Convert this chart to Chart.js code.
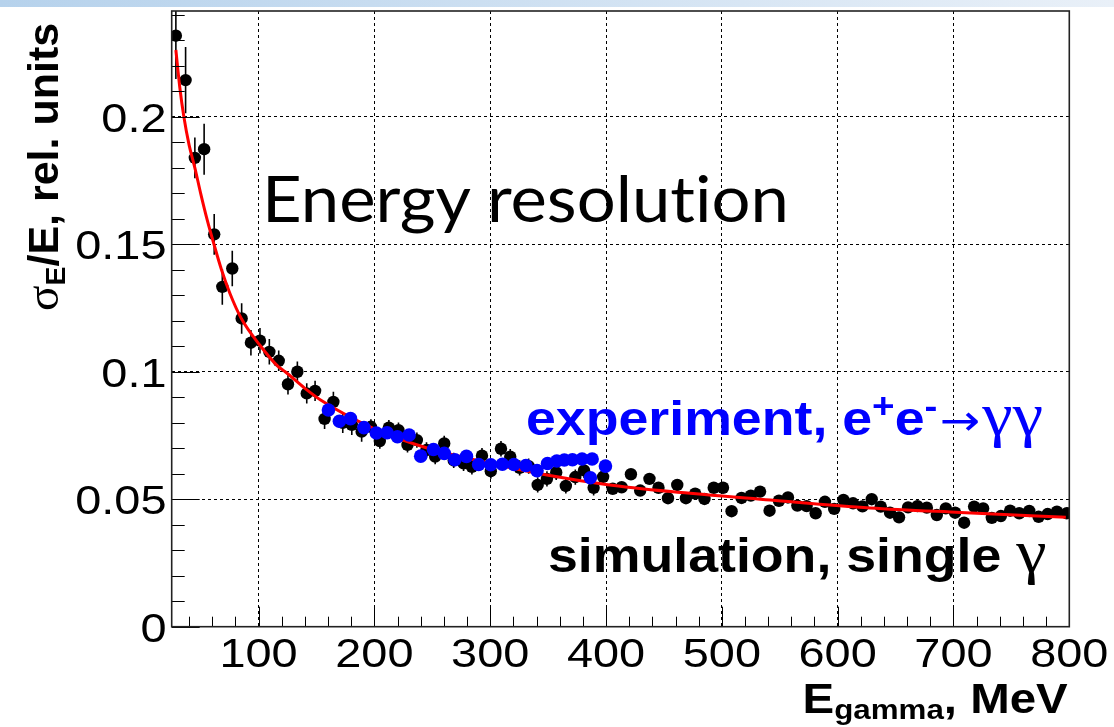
<!DOCTYPE html>
<html lang="en">
<head>
<meta charset="UTF-8" />
<title>Energy resolution</title>
<script src="https://cdn.jsdelivr.net/npm/chart.js"></script>
<style>
  html, body { margin: 0; padding: 0; background: #fff; }
  #wrap { position: relative; width: 1114px; height: 727px; overflow: hidden; background: #fff; }
  #topbar { position: absolute; left: 0; top: 0; width: 1114px; height: 7px;
            background: linear-gradient(to right, #b6d2ec, #e9f0f8); }
  canvas { position: absolute; left: 0; top: 0; }
  .lbl { position: absolute; white-space: nowrap; line-height: 1; font-variant-ligatures: none; }
  .root { font-family: "Liberation Sans", Arial, sans-serif; font-weight: bold;
          transform-origin: 0 0; transform: scaleX(1.13); }
  .sym { font-family: "Liberation Serif", "DejaVu Serif", serif; font-weight: normal; }
  .gam { font-size: 1.28em; line-height: 0; }
  .arr { font-family: "DejaVu Sans", sans-serif; font-weight: normal; font-size: 0.9em; padding: 0 2px; }
  .sup { position: relative; top: -0.5em; font-size: 0.72em; }
  .sub { position: relative; top: 0.25em; font-size: 0.66em; }
</style>
</head>
<body>
<div id="wrap">
  <canvas id="resChart" width="1114" height="727"></canvas>
  <div id="topbar"></div>

  <div class="lbl" id="title" style="left:262px; top:166px; font-family:Lato, 'Open Sans', sans-serif; font-size:64px; color:#000; transform-origin:0 0; transform:scaleX(1.075);">Energy resolution</div>

  <div class="lbl root" style="left:526px; top:395px; font-size:47.5px; color:#0000ff;">experiment, e<span class="sup">+</span>e<span class="sup">-</span><span class="arr">&rarr;</span><span class="sym gam">&gamma;&gamma;</span></div>

  <div class="lbl root" style="left:548px; top:531.5px; font-size:47.5px; color:#000;">simulation, single <span class="sym gam">&gamma;</span></div>

  <div class="lbl root" style="left:auto; right:46px; top:677.5px; font-size:42px; color:#000; transform-origin:100% 0;">E<span class="sub">gamma</span>, MeV</div>

  <div class="lbl" style="left:18.6px; top:311px; font-family:'Liberation Sans', Arial, sans-serif; font-weight:bold; font-size:43px; color:#000; transform-origin:0 0; transform:rotate(-90deg);"><span class="sym" style="font-size:1.1em;">&sigma;</span><span class="sub">E</span>/E, rel. units</div>
</div>

<script>
  // simulation, single gamma (black points with error bars)
  const simEnergy = [28.6, 37.0, 45.0, 53.0, 61.7, 68.7, 77.3, 85.4, 93.4, 101.2,
    109.3, 117.4, 125.4, 133.5, 141.6, 148.8, 157.0, 164.6, 172.7, 180.5,
    189.0, 197.0, 204.7, 212.5, 220.8, 228.6, 236.7, 245.0, 252.5, 260.3,
    268.5, 277.0, 284.2, 292.9, 300.5, 309.3, 317.3, 325.4, 333.2, 341.0,
    349.0, 357.0, 365.3, 373.5, 381.0, 389.3, 397.5, 405.8, 413.5, 421.5,
    429.5, 437.5, 445.3, 453.5, 461.5, 469.0, 477.0, 485.0, 493.0, 501.0,
    508.4, 517.0, 525.0, 533.0, 541.2, 549.3, 557.1, 565.2, 573.2, 581.0,
    589.0, 597.0, 605.0, 613.3, 621.4, 629.4, 637.2, 645.2, 653.0, 660.8,
    668.9, 677.0, 685.6, 693.4, 701.4, 709.2, 717.8, 725.6, 733.1, 740.9,
    748.9, 756.8, 765.4, 773.5, 781.3, 789.3, 797.9];
  const simSigma = [0.2318, 0.2144, 0.1839, 0.1873, 0.1539, 0.1333, 0.1405, 0.1209, 0.1114, 0.1122,
    0.1078, 0.1043, 0.0951, 0.1000, 0.0915, 0.0925, 0.0815, 0.0882, 0.0800, 0.0792,
    0.0765, 0.0784, 0.0728, 0.0781, 0.0771, 0.0713, 0.0732, 0.0693, 0.0667, 0.0719,
    0.0652, 0.0641, 0.0627, 0.0671, 0.0610, 0.0698, 0.0667, 0.0623, 0.0630, 0.0556,
    0.0580, 0.0605, 0.0552, 0.0587, 0.0613, 0.0545, 0.0588, 0.0541, 0.0547, 0.0598,
    0.0534, 0.0580, 0.0545, 0.0504, 0.0556, 0.0504, 0.0522, 0.0501, 0.0545, 0.0545,
    0.0453, 0.0505, 0.0514, 0.0530, 0.0455, 0.0494, 0.0507, 0.0475, 0.0473, 0.0445,
    0.0490, 0.0462, 0.0497, 0.0484, 0.0472, 0.0500, 0.0471, 0.0447, 0.0429, 0.0468,
    0.0473, 0.0467, 0.0438, 0.0464, 0.0447, 0.0408, 0.0471, 0.0464, 0.0427, 0.0434,
    0.0455, 0.0445, 0.0454, 0.0431, 0.0442, 0.0451, 0.0445];
  const simError = [0.017, 0.013, 0.008, 0.010, 0.008, 0.007, 0.007, 0.006, 0.005, 0.005,
    0.005, 0.004, 0.004, 0.004, 0.004, 0.004, 0.004, 0.004, 0.004, 0.004,
    0.004, 0.003, 0.003, 0.003, 0.003, 0.003, 0.003, 0.003, 0.003, 0.003,
    0.003, 0.003, 0.003, 0.003, 0.003, 0.003, 0.003, 0.003, 0.003, 0.003,
    0.003, 0.003, 0.003, 0.003, 0.003, 0.003, 0.003, 0.002, 0.002, 0.002,
    0.002, 0.002, 0.002, 0.002, 0.002, 0.002, 0.002, 0.002, 0.002, 0.002,
    0.002, 0.002, 0.002, 0.002, 0.002, 0.002, 0.002, 0.002, 0.002, 0.002,
    0.002, 0.002, 0.002, 0.002, 0.002, 0.002, 0.002, 0.002, 0.002, 0.002,
    0.002, 0.002, 0.002, 0.002, 0.002, 0.002, 0.002, 0.002, 0.002, 0.002,
    0.002, 0.002, 0.002, 0.002, 0.002, 0.002, 0.002];

  // experiment, e+e- -> gamma gamma (blue points)
  const expEnergy = [160.3, 169.8, 179.4, 191.0, 201.7, 211.0, 219.9, 230.0, 240.0, 251.0,
    260.3, 269.5, 279.5, 290.0, 300.5, 310.5, 320.5, 330.8, 340.4, 349.5,
    357.5, 364.0, 371.0, 379.3, 386.5, 388.0, 399.5];
  const expSigma = [0.0850, 0.0806, 0.0816, 0.0781, 0.0760, 0.0761, 0.0745, 0.0752, 0.0669, 0.0695,
    0.0680, 0.0655, 0.0668, 0.0636, 0.0635, 0.0637, 0.0636, 0.0632, 0.0612, 0.0640,
    0.0650, 0.0654, 0.0655, 0.0658, 0.0584, 0.0658, 0.0630];

  // fit curve (red)
  const fitEnergy = [28.6, 32, 35.5, 40, 45, 50, 55.7, 61.5, 68, 75.3, 85, 101, 117, 123,
    140, 156, 199, 242, 300, 349, 400, 456, 542, 628, 706, 797];
  const fitSigma = [0.2262, 0.2115, 0.2000, 0.1890, 0.1800, 0.1700, 0.1595, 0.1500, 0.1400, 0.1307,
    0.1210, 0.1105, 0.1020, 0.1000, 0.0935, 0.0882, 0.0778, 0.0706, 0.0641, 0.0595,
    0.0558, 0.0530, 0.0497, 0.0466, 0.0448, 0.0429];

  const xTicks = [100, 200, 300, 400, 500, 600, 700, 800];
  const xTickLabels = ['100', '200', '300', '400', '500', '600', '700', '800'];
  const yTicks = [0, 0.05, 0.1, 0.15, 0.2];
  const yTickLabels = ['0', '0.05', '0.1', '0.15', '0.2'];

  const X_MIN = 25, X_MAX = 800, Y_MIN = 0, Y_MAX = 0.2415;

  const pts = (xs, ys) => xs.map((x, i) => ({ x: x, y: ys[i] }));

  // vertical error bars under the simulation points
  const errorBars = {
    id: 'errorBars',
    beforeDatasetsDraw(chart) {
      const { ctx, chartArea, scales: { x, y } } = chart;
      ctx.save();
      ctx.beginPath();
      ctx.rect(chartArea.left, chartArea.top, chartArea.right - chartArea.left, chartArea.bottom - chartArea.top);
      ctx.clip();
      ctx.strokeStyle = '#000';
      ctx.lineWidth = 1.6;
      simEnergy.forEach((e, i) => {
        const px = x.getPixelForValue(e);
        ctx.beginPath();
        ctx.moveTo(px, y.getPixelForValue(simSigma[i] + simError[i]));
        ctx.lineTo(px, y.getPixelForValue(simSigma[i] - simError[i]));
        ctx.stroke();
      });
      ctx.restore();
    }
  };

  // ROOT-like frame, inward tick marks and stretched tick labels
  const frameAndTicks = {
    id: 'frameAndTicks',
    afterDraw(chart) {
      const { ctx, chartArea: a, scales: { x, y } } = chart;
      ctx.save();
      ctx.strokeStyle = '#000';
      ctx.lineWidth = 1;
      for (let k = 0; k <= 24; k++) {
        const py = Math.round(y.getPixelForValue(k / 100)) + 0.5;
        const len = (k % 5 === 0) ? 28 : 13;
        ctx.beginPath(); ctx.moveTo(a.left, py); ctx.lineTo(a.left + len, py); ctx.stroke();
      }
      for (let v = 40; v <= 800; v += 20) {
        const px = Math.round(x.getPixelForValue(v)) + 0.5;
        const len = (v % 100 === 0) ? 20 : 10;
        ctx.beginPath(); ctx.moveTo(px, a.bottom); ctx.lineTo(px, a.bottom - len); ctx.stroke();
      }
      ctx.lineWidth = 1.6;
      ctx.strokeStyle = '#222';
      ctx.strokeRect(a.left, a.top, a.right - a.left, a.bottom - a.top);

      ctx.fillStyle = '#000';
      ctx.font = '41.5px "Liberation Sans", Arial, sans-serif';
      ctx.textBaseline = 'alphabetic';
      ctx.textAlign = 'center';
      xTicks.forEach((v, i) => {
        ctx.save();
        ctx.translate(x.getPixelForValue(v), 667);
        ctx.scale(1.13, 1);
        ctx.fillText(xTickLabels[i], 0, 0);
        ctx.restore();
      });
      ctx.textAlign = 'right';
      yTicks.forEach((v, i) => {
        ctx.save();
        ctx.translate(166.5, y.getPixelForValue(v) + 15);
        ctx.scale(1.13, 1);
        ctx.fillText(yTickLabels[i], 0, 0);
        ctx.restore();
      });
      ctx.restore();
    }
  };

  new Chart(document.getElementById('resChart').getContext('2d'), {
    type: 'scatter',
    data: {
      datasets: [
        {
          label: 'experiment',
          data: pts(expEnergy, expSigma),
          backgroundColor: '#0000ff',
          borderColor: '#0000ff',
          borderWidth: 0,
          pointRadius: 6.8,
          order: 0
        },
        {
          label: 'fit',
          type: 'line',
          data: pts(fitEnergy, fitSigma),
          borderColor: '#ff0000',
          borderWidth: 3,
          pointRadius: 0,
          fill: false,
          cubicInterpolationMode: 'monotone',
          order: 1
        },
        {
          label: 'simulation',
          data: pts(simEnergy, simSigma),
          backgroundColor: '#000',
          borderColor: '#000',
          borderWidth: 0,
          pointRadius: 6.2,
          order: 2
        }
      ]
    },
    options: {
      responsive: false,
      animation: false,
      devicePixelRatio: 1,
      layout: { padding: { top: 11, right: 44.7, left: 0, bottom: 0 } },
      plugins: { legend: { display: false }, tooltip: { enabled: false } },
      scales: {
        x: {
          type: 'linear',
          min: X_MIN,
          max: X_MAX,
          afterBuildTicks: s => { s.ticks = xTicks.map(v => ({ value: v })); },
          ticks: { display: false },
          grid: { color: '#000', lineWidth: 1, drawTicks: false },
          border: { display: false, dash: [3, 3] },
          afterFit: s => { s.height = 100.3; s.paddingLeft = 0; s.paddingRight = 0; }
        },
        y: {
          type: 'linear',
          min: Y_MIN,
          max: Y_MAX,
          afterBuildTicks: s => { s.ticks = yTicks.map(v => ({ value: v })); },
          ticks: { display: false },
          grid: { color: '#000', lineWidth: 1, drawTicks: false },
          border: { display: false, dash: [3, 3] },
          afterFit: s => { s.width = 171.7; s.paddingTop = 0; s.paddingBottom = 0; }
        }
      }
    },
    plugins: [errorBars, frameAndTicks]
  });
</script>
</body>
</html>
